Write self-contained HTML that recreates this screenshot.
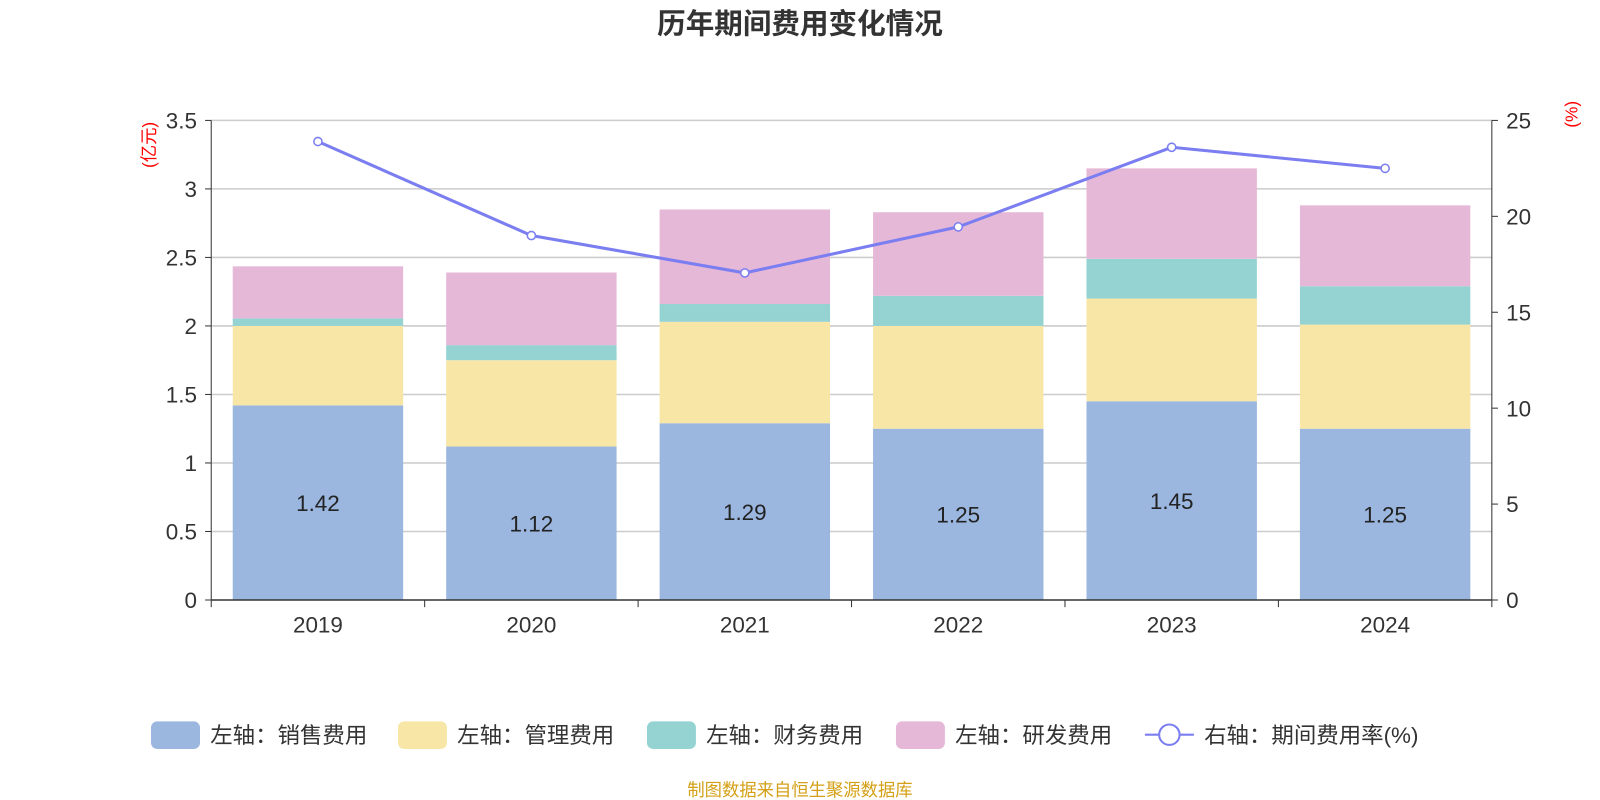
<!DOCTYPE html>
<html><head><meta charset="utf-8"><style>
body{margin:0;background:#fff;font-family:"Liberation Sans","Noto Sans CJK SC",sans-serif}
svg{display:block}
</style></head><body>
<svg id="c" width="1600" height="800" viewBox="0 0 1568 784" xmlns="http://www.w3.org/2000/svg" font-family="Liberation Sans, Noto Sans CJK SC, sans-serif"></svg>
<script>
const categories=["2019","2020","2021","2022","2023","2024"];
const sales=[1.42,1.12,1.29,1.25,1.45,1.25];
const mgmt=[0.58,0.63,0.74,0.75,0.75,0.76];
const fin=[0.055,0.11,0.13,0.22,0.29,0.28];
const rd=[0.38,0.53,0.69,0.61,0.66,0.59];
const rate=[23.9,19.0,17.05,19.45,23.6,22.5];
const leftTicks=[0,0.5,1,1.5,2,2.5,3,3.5];
const rightTicks=[0,5,10,15,20,25];
const seriesNames=["左轴：销售费用","左轴：管理费用","左轴：财务费用","左轴：研发费用"];
const colors=["#9bb7e0","#f7e6a6","#95d3d3","#e6b8d8"];

const svg=document.getElementById('c');const NS="http://www.w3.org/2000/svg";
function el(t,a,txt){const e=document.createElementNS(NS,t);for(const k in a)e.setAttribute(k,a[k]);if(txt!==undefined)e.textContent=txt;svg.appendChild(e);return e;}
const X0=207,X1=1462,Y0=588,Y1=118;
const cw=(X1-X0)/categories.length;
const yL=v=>Y0-(v/3.5)*(Y0-Y1);
const yR=v=>Y0-(v/25)*(Y0-Y1);
const xC=i=>X0+cw*(i+0.5);

let t=el('text',{x:784,y:33,'text-anchor':'middle','font-size':28,'font-weight':'bold',fill:'#333'},'历年期间费用变化情况');


leftTicks.forEach(v=>{
 const y=yL(v);
 if(v>0){const g=el('line',{x1:X0,x2:X1,y1:y,y2:y,stroke:'#ccc','stroke-width':1.5});}
 el('line',{x1:X0-6,x2:X0,y1:y,y2:y,stroke:'#333'});
 const l=el('text',{x:X0-14,y:y+8,'text-anchor':'end','font-size':22,fill:'#333'},String(v));
 
});
rightTicks.forEach(v=>{
 const y=yR(v);
 el('line',{x1:X1,x2:X1+6,y1:y,y2:y,stroke:'#333'});
 const l=el('text',{x:X1+14,y:y+8,'font-size':22,fill:'#333'},String(v));
 
});
el('line',{x1:X0,x2:X0,y1:Y1,y2:Y0,stroke:'#333'});
el('line',{x1:X1,x2:X1,y1:Y1,y2:Y0,stroke:'#333'});
let u=el('text',{x:0,y:0,'font-size':17,fill:'red',transform:'translate(152,142) rotate(-90)','text-anchor':'middle'},'(亿元)');

u=el('text',{x:0,y:0,'font-size':17,fill:'red',transform:'translate(1546,112) rotate(-90)','text-anchor':'middle'},'(%)');


const series=[sales,mgmt,fin,rd];
categories.forEach((c,i)=>{
 let base=0;const bw=167,x=xC(i)-bw/2;
 series.forEach((s,k)=>{
  const r=el('rect',{x:x,y:yL(base+s[i]),width:bw,height:yL(base)-yL(base+s[i]),fill:colors[k]});
  
  base+=s[i];
 });
 const lb=el('text',{x:xC(i),y:(yL(0)+yL(sales[i]))/2+8,'text-anchor':'middle','font-size':22,fill:'#222'},sales[i].toFixed(2));
 
 const xl=el('text',{x:xC(i),y:620,'text-anchor':'middle','font-size':22,fill:'#333'},c);
 
});
el('line',{x1:X0,x2:X1,y1:Y0,y2:Y0,stroke:'#333','stroke-width':1.5});
for(let i=0;i<=categories.length;i++){el('line',{x1:X0+cw*i,x2:X0+cw*i,y1:Y0,y2:Y0+7,stroke:'#333'});}

const pl=el('polyline',{points:rate.map((v,i)=>xC(i)+','+yR(v)).join(' '),fill:'none',stroke:'#7b7ef0','stroke-width':3});

rate.forEach((v,i)=>{const p=el('circle',{cx:xC(i),cy:yR(v),r:4,fill:'#fff',stroke:'#7b7ef0','stroke-width':1.5});});

const lx=[148,390,634,878];
seriesNames.forEach((n,k)=>{
 const r=el('rect',{x:lx[k],y:707,width:48,height:27,rx:6,fill:colors[k]});
 
 const tx=el('text',{x:lx[k]+58,y:728,'font-size':22,fill:'#333'},n);
 
});
el('line',{x1:1122,x2:1170,y1:720,y2:720,stroke:'#7b7ef0','stroke-width':2});
el('circle',{cx:1146,cy:720,r:10,fill:'#fff',stroke:'#7b7ef0','stroke-width':2});
const rl=el('text',{x:1180,y:728,'font-size':22,fill:'#333'},'右轴：期间费用率(%)');

const src=el('text',{x:784,y:780,'text-anchor':'middle','font-size':17,fill:'#d4a017'},'制图数据来自恒生聚源数据库');

</script>
</body></html>
